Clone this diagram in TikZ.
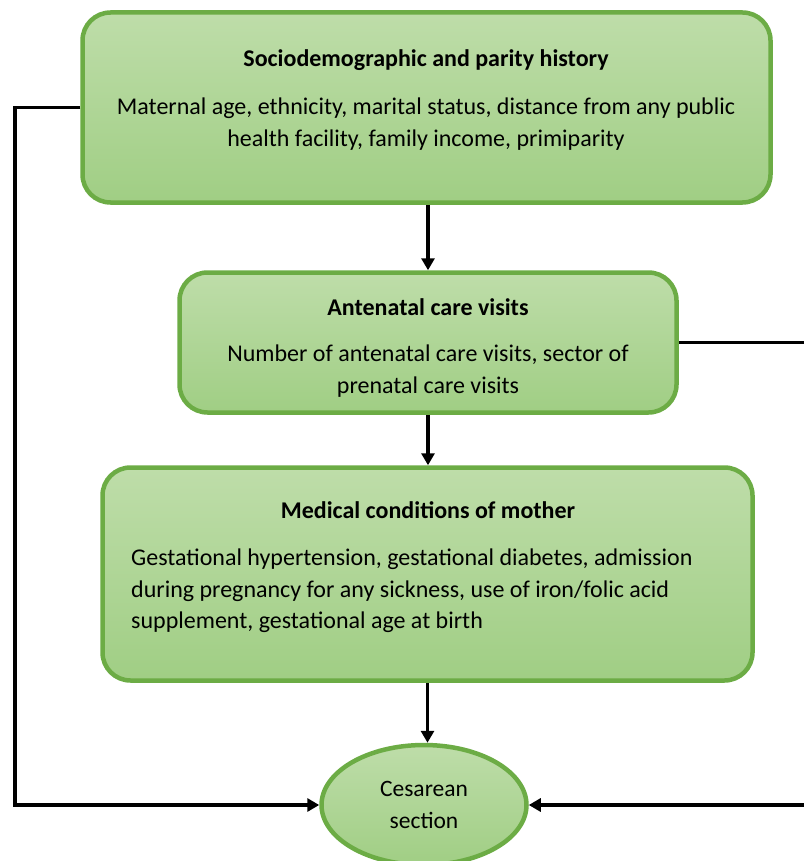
\documentclass[tikz,border=0pt]{standalone}
\usepackage{fontspec}
\setmainfont{Carlito}
\usetikzlibrary{shapes.geometric,arrows.meta,positioning}
\definecolor{cfGreen}{HTML}{6CAC45}
\definecolor{cfLight}{HTML}{BEDDA9}
\definecolor{cfMid}{HTML}{A0CE84}
\tikzset{
  % Stage boxes (rounded, green)
  stagebox/.style={
    rectangle,
    rounded corners=28pt,
    draw=cfGreen,
    line width=4.5pt,
    top color=cfLight,
    bottom color=cfMid,
    inner sep=0pt
  },
  % Outcome ellipse
  outcome/.style={
    ellipse,
    draw=cfGreen,
    line width=4.5pt,
    top color=cfLight,
    bottom color=cfMid,
    inner sep=0pt,
    minimum width=205pt,
    minimum height=120pt,
    align=center,
    font=\fontsize{23.5}{32}\selectfont
  },
  % Box heading
  headtext/.style={
    font=\fontsize{24}{32}\selectfont\bfseries,
    inner sep=0pt
  },
  % Box body text
  bodytext/.style={
    font=\fontsize{24}{31.5}\selectfont,
    align=center,
    inner sep=0pt
  },
  % Connector arrow
  flow/.style={
    -{Triangle[length=12pt,width=13pt]},
    line width=3.2pt,
    black
  }
}
\begin{document}
\begin{tikzpicture}[x=1pt,y=-1pt]
\useasboundingbox (0,0) rectangle (803,861);

%% === Boxes ===
\node[stagebox, minimum width=688pt, minimum height=190pt] (socio) at (426.5,107.5) {};
\node[stagebox, minimum width=497pt, minimum height=140pt] (anc) at (428,342.5) {};
\node[stagebox, minimum width=650pt, minimum height=213pt] (medical) at (427.5,574) {};
\node[outcome] (cesarean) at (424,805) {Cesarean\\section};

%% === Texts ===
\node[headtext] (sociohead) at (426,60) {Sociodemographic and parity history};
\node[bodytext] (sociobody) at (426,124)
  {Maternal age, ethnicity, marital status, distance from any public\\
   health facility, family income, primiparity};

\node[headtext] (anchead) at (428,307) {Antenatal care visits};
\node[bodytext] (ancbody) at (428,371)
  {Number of antenatal care visits, sector of\\
   prenatal care visits};

\node[headtext] (medhead) at (428,510) {Medical conditions of mother};
\node[bodytext, align=left, anchor=west] (medbody) at (131,591)
  {Gestational hypertension, gestational diabetes, admission\\
   during pregnancy for any sickness, use of iron/folic acid\\
   supplement, gestational age at birth};

%% === Connectors ===
\coordinate (leftrail) at (15,0);
\coordinate (rightrail) at (808,0);

\draw[flow] (anc.north |- socio.south) -- (anc.north);
\draw[flow] (anc.south) -- (anc.south |- medical.north);
\draw[flow] (medical.south) -- (medical.south |- cesarean.north);
\draw[flow] (socio.west) -- (socio.west -| leftrail) |- (cesarean.west);
\draw[flow] (anc.east) -- (anc.east -| rightrail) |- (cesarean.east);

\end{tikzpicture}
\end{document}
